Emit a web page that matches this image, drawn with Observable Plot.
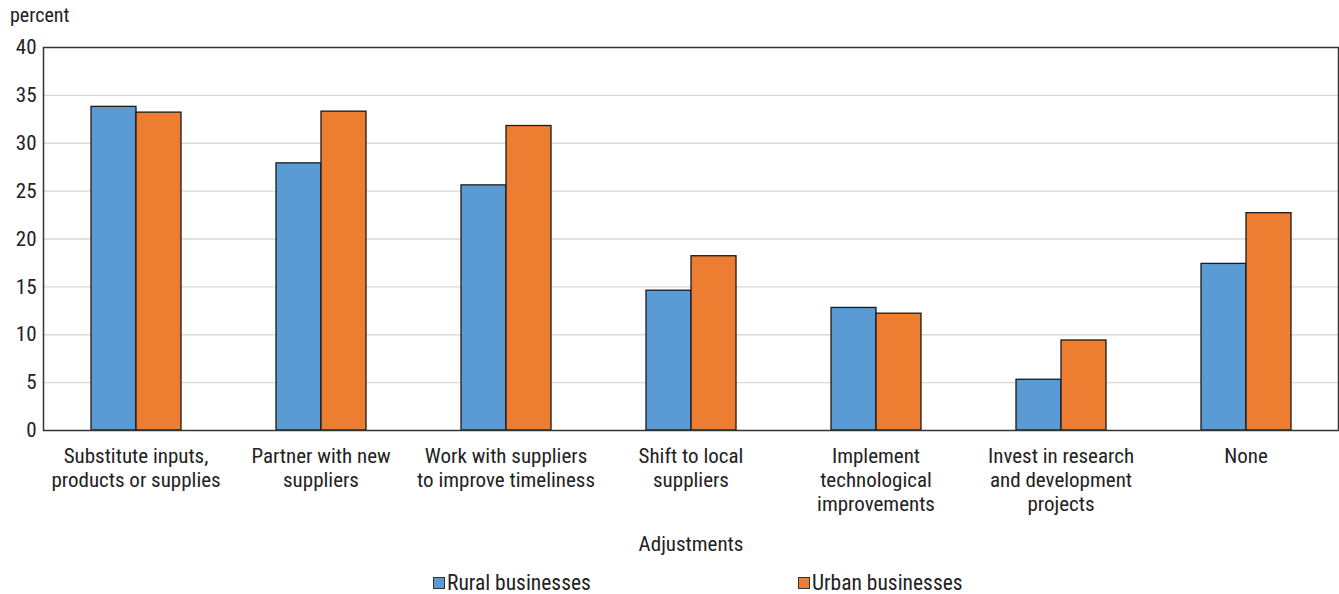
<!DOCTYPE html>
<html>
<head>
<meta charset="utf-8">
<script src="https://cdn.jsdelivr.net/npm/d3@7"></script>
<script src="https://cdn.jsdelivr.net/npm/@observablehq/plot@0.6"></script>
<style>
  body { margin: 0; background: #fff; font-family: "Liberation Sans Narrow", "Roboto Condensed", Roboto, sans-serif; color: #222; }
  #wrap { position: relative; width: 1339px; }
  #ylab { position: absolute; left: 10px; top: 3px; font-size: 20px; }
  #legend { display: flex; padding-left: 433px; font-size: 21.5px; margin-top: 8px; }
  .item { width: 365px; display: flex; align-items: center; }
  .sw { width: 10px; height: 10px; border: 1.3px solid #333; margin-right: 2px; }
</style>
</head>
<body>
<div id="wrap">
  <div id="ylab">percent</div>
  <div id="chart"></div>
  <div id="legend"></div>
</div>
<script>
const categories = [
  "Substitute inputs, products or supplies",
  "Partner with new suppliers",
  "Work with suppliers to improve timeliness",
  "Shift to local suppliers",
  "Implement technological improvements",
  "Invest in research and development projects",
  "None"
];
const categoryLabels = [
  "Substitute inputs,\nproducts or supplies",
  "Partner with new\nsuppliers",
  "Work with suppliers\nto improve timeliness",
  "Shift to local\nsuppliers",
  "Implement\ntechnological\nimprovements",
  "Invest in research\nand development\nprojects",
  "None"
];
const series = ["Rural businesses", "Urban businesses"];
const rural = [33.8, 27.9, 25.6, 14.6, 12.8, 5.3, 17.4];
const urban = [33.2, 33.3, 31.8, 18.2, 12.2, 9.4, 22.7];
const colors = ["#5B9BD5", "#ED7D31"];
const yTicks = [0, 5, 10, 15, 20, 25, 30, 35, 40];
const gridValues = [5, 10, 15, 20, 25, 30, 35];

const data = [];
categories.forEach((c, i) => {
  data.push({category: c, series: series[0], value: rural[i]});
  data.push({category: c, series: series[1], value: urban[i]});
});
const labelOf = new Map(categories.map((c, i) => [c, categoryLabels[i]]));

const chart = Plot.plot({
  width: 1339,
  height: 562,
  marginLeft: 43,
  marginRight: 2,
  marginTop: 47,
  marginBottom: 132,
  style: {fontSize: "21px", fontFamily: "'Liberation Sans Narrow', 'Roboto Condensed', Roboto, sans-serif", color: "#222", background: "#fff"},
  fx: {domain: categories, padding: 0, insetLeft: -3, insetRight: -3},
  x: {domain: series, paddingInner: 0, paddingOuter: 1.03, axis: null},
  y: {domain: [0, 40]},
  color: {domain: series, range: colors},
  marks: [
    Plot.ruleY(gridValues, {stroke: "#d9d9d9", strokeWidth: 1.3}),
    Plot.barY(data, {fx: "category", x: "series", y: "value", fill: "series", stroke: "#1a1a1a", strokeWidth: 1.3}),
    Plot.frame({stroke: "#333", strokeWidth: 1.5, facet: "super"}),
    Plot.axisY({ticks: yTicks, tickSize: 0, tickPadding: 7, label: null, fontSize: 21}),
    Plot.axisFx({anchor: "bottom", tickSize: 0, tickPadding: 15, lineHeight: 1.143, fontSize: 21,
      tickFormat: d => labelOf.get(d), label: "Adjustments", labelAnchor: "center", labelOffset: 120})
  ]
});
document.getElementById("chart").appendChild(chart);

const legend = document.getElementById("legend");
series.forEach((s, i) => {
  const it = document.createElement("div");
  it.className = "item";
  it.innerHTML = `<span class="sw" style="background:${colors[i]}"></span><span>${s}</span>`;
  legend.appendChild(it);
});
</script>
</body>
</html>
